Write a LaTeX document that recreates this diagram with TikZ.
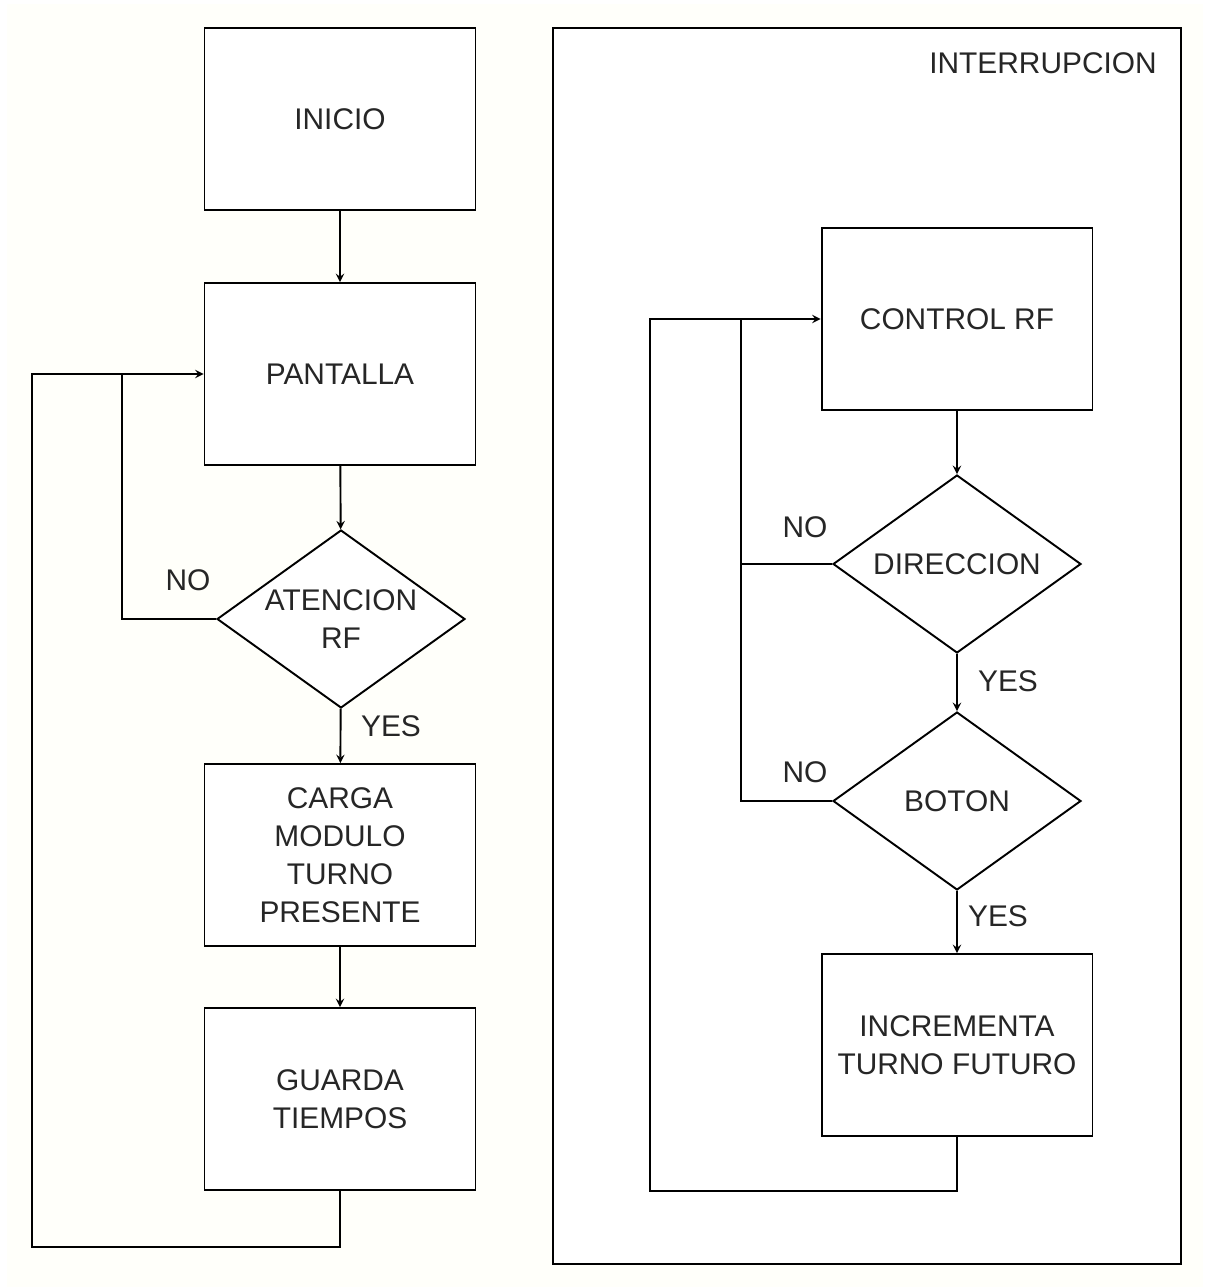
\documentclass[tikz,border=0pt]{standalone}
\usepackage{fontspec}
\setmainfont{Liberation Sans}
\usepackage{tikz}
\usetikzlibrary{shapes.geometric,arrows}

\begin{document}
\begin{tikzpicture}[x=0.02cm,y=-0.02cm,
  line width=1.1pt,>=stealth,
  every node/.style={font=\fontsize{17}{21.6}\selectfont,text=black!85},
  caja/.style={draw,fill=white,minimum width=5.42cm,minimum height=3.64cm,align=center,inner sep=0pt},
  rombo/.style={draw,fill=white,diamond,aspect=1.4,minimum width=4.96cm,minimum height=3.56cm,align=center,inner sep=0pt},
  lbl/.style={inner sep=0pt}]
% fondo
\fill[white] (0,0) rectangle (1208,1287);
\fill[black!3!yellow!2!white] (7,4) rectangle (1203,1287);
\useasboundingbox (0,0) rectangle (1208,1287);

% lado izquierdo
\node[caja] (inicio) at (340,119) {INICIO};
\node[caja] (pantalla) at (340,374) {PANTALLA};
\node[rombo] (atencion) at (341,619) {ATENCION\\RF};
\node[caja] (carga) at (340,855) {CARGA\\MODULO\\TURNO\\PRESENTE};
\node[caja] (guarda) at (340,1099) {GUARDA\\TIEMPOS};
\node[lbl] (no1) at (188,580) {NO};
\node[lbl] (si1) at (391,726) {YES};
\coordinate (unel) at (122,374);

\draw[->] (inicio) -- (pantalla);
\draw[->] (pantalla) -- (atencion);
\draw[->] (atencion) -- (carga);
\draw[->] (carga) -- (guarda);
\draw (atencion.west) -| (unel);
\draw[->] (guarda.south) |- (32,1247) |- (pantalla.west);

% interrupcion
\draw[fill=white] (553,28) rectangle (1181,1264);
\node[lbl] (titulo) at (1043,63) {INTERRUPCION};
\node[caja] (control) at (957,319) {CONTROL RF};
\node[rombo] (direccion) at (957,564) {DIRECCION};
\node[rombo] (boton) at (957,801) {BOTON};
\node[caja] (incrementa) at (957,1045) {INCREMENTA\\TURNO FUTURO};
\node[lbl] (no2) at (805,527) {NO};
\node[lbl] (si2) at (1008,681) {YES};
\node[lbl] (no3) at (805,772) {NO};
\node[lbl] (si3) at (998,916) {YES};
\coordinate (uner) at (741,319);

\draw[->] (control) -- (direccion);
\draw[->] (direccion) -- (boton);
\draw[->] (boton) -- (incrementa);
\draw (direccion.west) -| (uner);
\draw (boton.west) -| (uner);
\draw[->] (incrementa.south) |- (650,1191) |- (control.west);
\end{tikzpicture}
\end{document}
